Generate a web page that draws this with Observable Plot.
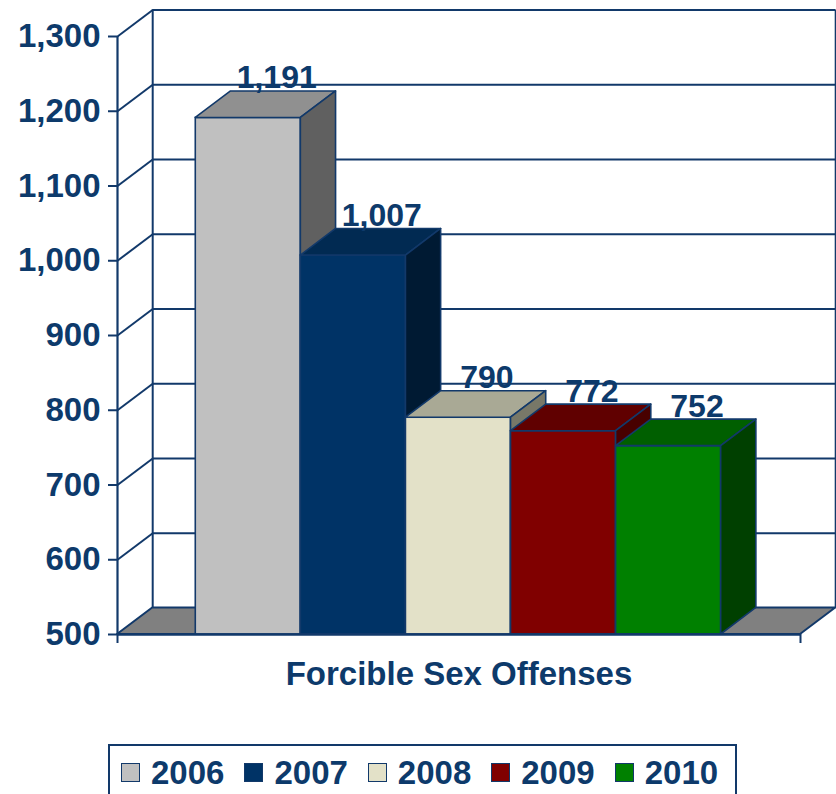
<!DOCTYPE html>
<html><head><meta charset="utf-8">
<script src="https://cdn.jsdelivr.net/npm/d3@7"></script>
<script src="https://cdn.jsdelivr.net/npm/@observablehq/plot@0.6"></script>
<style>
body{margin:0;background:#fff;font-family:"Liberation Sans",Arial,sans-serif;}
#wrap{position:relative;width:836px;height:794px;overflow:hidden;}
#legend{position:absolute;left:108px;top:744px;width:629px;height:57px;border:2px solid #12396a;box-sizing:border-box;display:flex;align-items:center;padding-left:11px;}
.item{display:flex;align-items:center;margin-right:20px;}
.sw{width:19px;height:19px;box-sizing:border-box;border:1.5px solid #12396a;margin-right:11px;}
.lab{font-size:33px;font-weight:bold;color:#0d3a6b;line-height:1;}
</style></head><body><div id="wrap"><div id="chart"></div><div id="legend"></div></div>
<script>
// ---- data ----
const years = ["2006", "2007", "2008", "2009", "2010"];
const values = [1191, 1007, 790, 772, 752];
const category = "Forcible Sex Offenses";
const yTicks = [500, 600, 700, 800, 900, 1000, 1100, 1200, 1300];

// ---- styles ----
const frontColors = ["#c0c0c0", "#003366", "#e3e1c8", "#800000", "#008000"];
const topColors = ["#909090", "#012a52", "#a9a995", "#600000", "#005f00"];
const sideColors = ["#606060", "#001a33", "#787868", "#480000", "#004000"];
const NAVY = "#12396a";
const TEXT = "#0d3a6b";

// ---- 3D layout (in scale units) ----
const XMAX = 6.5;      // front category span
const BAR0 = 0.745;    // first bar start
const DX = 0.335;      // depth offset along x
const DY = 35.5;       // depth offset along y (value units)
const YMIN = 500, YMAX = 1300;

const bars = years.map((year, i) => ({year, value: values[i], i}));

const marks = [];
// back wall gridlines
marks.push(Plot.ruleY(yTicks, {y: t => t + DY, x1: DX, x2: XMAX + DX, stroke: NAVY, strokeWidth: 2}));
marks.push(Plot.ruleX([DX, XMAX + DX], {x: d => d, y1: YMIN + DY, y2: YMAX + DY, stroke: NAVY, strokeWidth: 2}));
// left wall diagonals
marks.push(Plot.link(yTicks, {x1: 0, y1: t => t, x2: DX, y2: t => t + DY, stroke: NAVY, strokeWidth: 2}));
// floor
const floorPts = [
  {x: 0, y1: YMIN, y2: YMIN},
  {x: DX, y1: YMIN, y2: YMIN + DY},
  {x: XMAX, y1: YMIN, y2: YMIN + DY},
  {x: XMAX + DX, y1: YMIN + DY, y2: YMIN + DY}
];
marks.push(Plot.areaY(floorPts, {x: "x", y1: "y1", y2: "y2", fill: "#808080", stroke: NAVY, strokeWidth: 2}));
// front axis line
marks.push(Plot.ruleX([0], {y1: YMIN, y2: YMAX, stroke: NAVY, strokeWidth: 2.2}));

// bars
for (const d of bars) {
  const a = BAR0 + d.i, b = a + 1, v = d.value;
  marks.push(Plot.rect([d], {x1: () => a, x2: () => b, y1: YMIN, y2: "value",
    fill: frontColors[d.i], stroke: NAVY, strokeWidth: 1.6}));
  const topPts = [
    {x: a, y1: v, y2: v},
    {x: a + DX, y1: v, y2: v + DY},
    {x: b, y1: v, y2: v + DY},
    {x: b + DX, y1: v + DY, y2: v + DY}
  ];
  marks.push(Plot.areaY(topPts, {x: "x", y1: "y1", y2: "y2", fill: topColors[d.i], stroke: NAVY, strokeWidth: 1.6}));
  const sidePts = [
    {x: b, y1: YMIN, y2: v},
    {x: b + DX, y1: YMIN + DY, y2: v + DY}
  ];
  marks.push(Plot.areaY(sidePts, {x: "x", y1: "y1", y2: "y2", fill: sideColors[d.i], stroke: NAVY, strokeWidth: 1.6}));
}
marks.push(Plot.ruleY([YMIN], {x1: 0, x2: XMAX, stroke: NAVY, strokeWidth: 2.5}));

// value labels
marks.push(Plot.text(bars, {
  x: d => BAR0 + d.i + 0.5 + 0.27, y: d => d.value + DY,
  text: d => d3.format(",")(d.value), dy: -3, lineAnchor: "bottom",
  fontSize: 32, fontWeight: "bold", fill: TEXT
}));
// axes
marks.push(Plot.axisY({ticks: yTicks, tickFormat: d3.format(","), tickSize: 9, tickPadding: 8,
  fontSize: 33, fontWeight: "bold", stroke: NAVY, strokeWidth: 2, fill: TEXT, label: null}));
marks.push(Plot.axisX({ticks: [0, XMAX], tickFormat: () => "", tickSize: 9, stroke: NAVY, strokeWidth: 2, label: null}));
// category label
marks.push(Plot.text([category], {x: XMAX / 2, y: YMIN, dy: 40, text: d => d,
  fontSize: 33, fontWeight: "bold", fill: TEXT}));

const chart = Plot.plot({
  width: 836, height: 720,
  marginTop: 36, marginBottom: 86, marginLeft: 117, marginRight: 36,
  x: {type: "linear", domain: [0, XMAX]},
  y: {type: "linear", domain: [YMIN, YMAX]},
  style: {fontFamily: '"Liberation Sans", Arial, sans-serif', fontWeight: "bold", color: TEXT, background: "#fff"},
  marks
});
document.getElementById("chart").appendChild(chart);

// legend
const legend = document.getElementById("legend");
years.forEach((y, i) => {
  const it = document.createElement("div"); it.className = "item";
  const sw = document.createElement("div"); sw.className = "sw"; sw.style.background = frontColors[i];
  const lb = document.createElement("span"); lb.className = "lab"; lb.textContent = y;
  it.appendChild(sw); it.appendChild(lb); legend.appendChild(it);
});
</script></body></html>
